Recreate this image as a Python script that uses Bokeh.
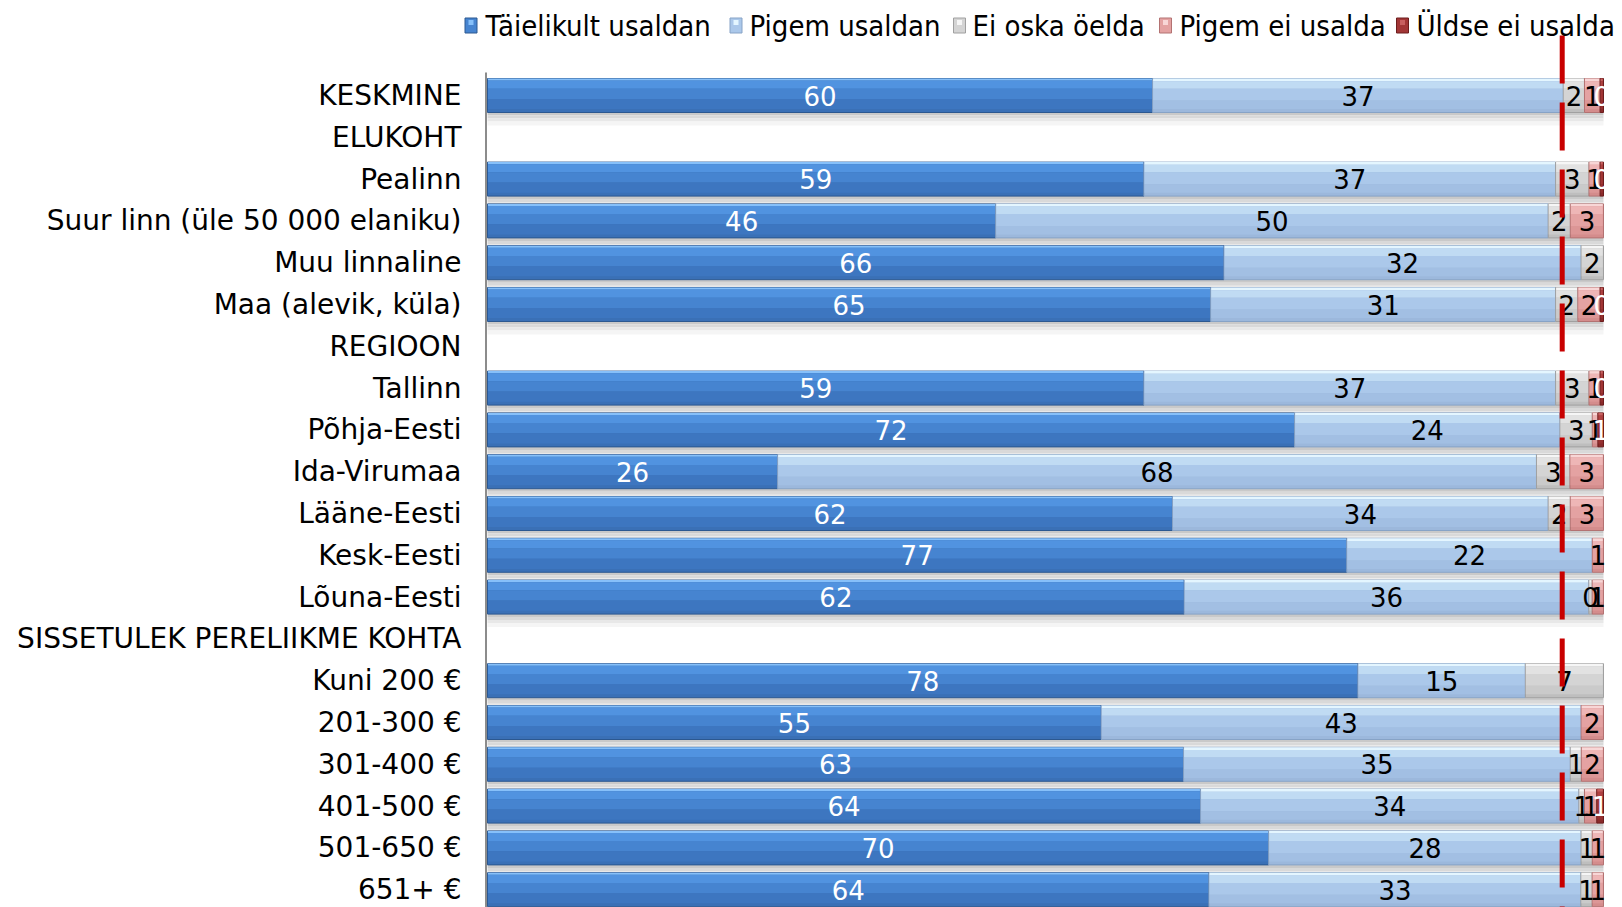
import numpy as np
from bokeh.plotting import figure
from bokeh.models import Range1d, ColumnDataSource
from bokeh.core.properties import value
from bokeh.embed import file_html
from bokeh.resources import INLINE

# ---------------- data ----------------
categories = [
    "KESKMINE", "ELUKOHT", "Pealinn", "Suur linn (üle 50 000 elaniku)",
    "Muu linnaline", "Maa (alevik, küla)", "REGIOON", "Tallinn", "Põhja-Eesti",
    "Ida-Virumaa", "Lääne-Eesti", "Kesk-Eesti", "Lõuna-Eesti",
    "SISSETULEK PERELIIKME KOHTA", "Kuni 200 €", "201-300 €", "301-400 €",
    "401-500 €", "501-650 €", "651+ €",
]
series_names = ["Täielikult usaldan", "Pigem usaldan", "Ei oska öelda",
                "Pigem ei usalda", "Üldse ei usalda"]

taielikult_usaldan = [59.6, None, 59, 46, 66, 65, None, 59, 72.4, 26, 62, 77, 62, None, 78, 55, 63, 63.9, 70, 64]
pigem_usaldan      = [36.8, None, 37, 50, 32, 31, None, 37, 23.8, 68, 34, 22, 36, None, 15, 43, 35, 33.9, 28, 33]
ei_oska_oelda      = [1.9, None, 3, 2, 2, 2, None, 3, 2.9, 3, 2, 0, 0.3, None, 7, 0, 1, 0.5, 1, 1]
pigem_ei_usalda    = [1.4, None, 1, 3, 0, 2, None, 1, 0.5, 3, 3, 1, 1, None, 0, 2, 2, 1.1, 1, 1]
uldse_ei_usalda    = [0.3, None, 0.3, 0, 0, 0.3, None, 0.3, 0.5, 0, 0, 0, 0, None, 0, 0, 0, 0.6, 0, 0]

reference_value = 96.3   # red dashed reference line (percent)

# ---------------- layout ----------------
W, H = 1622, 907
LEFT_PX = 487          # canvas px of 0 %
PX_PER_UNIT = 11.16    # px per percent
ROW0_PX = 95           # canvas px of first row centre
ROW_PX = 41.8          # px per row
BAR_H = 34 / ROW_PX


def xd(px):
    return (px - LEFT_PX) / PX_PER_UNIT


def yd(px):
    return (px - ROW0_PX) / ROW_PX


p = figure(width=W, height=H, output_backend="svg", toolbar_location=None,
           x_range=Range1d(-LEFT_PX / PX_PER_UNIT, (W - LEFT_PX) / PX_PER_UNIT),
           y_range=Range1d((H - ROW0_PX) / ROW_PX, -ROW0_PX / ROW_PX),
           x_axis_location=None, y_axis_location=None,
           min_border=0, outline_line_color=None, background_fill_color="white",
           border_fill_color="white")
p.grid.visible = False

raw = [taielikult_usaldan, pigem_usaldan, ei_oska_oelda, pigem_ei_usalda, uldse_ei_usalda]
vals = np.array([[0.0 if v is None else float(v) for v in s] for s in raw])
totals = vals.sum(axis=0)
has = totals > 0
norm = np.where(has, vals / np.where(has, totals, 1) * 100.0, 0.0)
rights = np.cumsum(norm, axis=0)
lefts = rights - norm
rows = np.arange(len(categories), dtype=float)

styles = [
    dict(edge="#2c5890", base="#3a70b6",
         bands=[(0.00, 0.06, "#86c0fa"), (0.06, 0.30, "#5193e0"), (0.30, 0.60, "#4684d0"), (0.60, 0.90, "#3d76c0")],
         text="white"),
    dict(edge="#87a3c6", base="#9cb8dc",
         bands=[(0.00, 0.08, "#e4f6ff"), (0.08, 0.30, "#c0dbf3"), (0.30, 0.65, "#abc8ea"), (0.65, 0.90, "#a2bfe3")],
         text="black"),
    dict(edge="#a0a0a0", base="#bebebe",
         bands=[(0.00, 0.08, "#f6f6f6"), (0.08, 0.30, "#e2e2e2"), (0.30, 0.65, "#d4d4d4"), (0.65, 0.90, "#cacaca")],
         text="black"),
    dict(edge="#b37272", base="#d48c8c",
         bands=[(0.00, 0.08, "#f8d6d6"), (0.08, 0.30, "#eeb6b6"), (0.30, 0.65, "#e4a2a2"), (0.65, 0.90, "#dc9696")],
         text="black"),
    dict(edge="#6c1c1c", base="#8a2a2a",
         bands=[(0.00, 0.08, "#c86060"), (0.08, 0.30, "#b04242"), (0.30, 0.65, "#a23636"), (0.65, 0.90, "#963030")],
         text="white"),
]

# shadows under each bar
shadow_bands = [(0, 3, "#c9c9c9"), (3, 6, "#d9d9d9"), (6, 9, "#e8e8e8"), (9, 13, "#f5f5f5")]
sr = rows[has]
for a, b, c in shadow_bands:
    yc = sr + BAR_H / 2 + ((a + b) / 2) / ROW_PX
    p.hbar(y=yc, left=0, right=100, height=(b - a) / ROW_PX, fill_color=c, line_color=None)

# bars with layered "gradient"
for k, st in enumerate(styles):
    m = norm[k] > 0
    src_l, src_r, src_y = lefts[k][m], rights[k][m], rows[m]
    p.hbar(y=src_y, left=src_l, right=src_r, height=BAR_H, fill_color=st["base"],
           line_color=st["edge"], line_width=1)
    for f0, f1, c in st["bands"]:
        yc = src_y - BAR_H / 2 + (f0 + f1) / 2 * BAR_H
        p.hbar(y=yc, left=src_l + 0.04, right=src_r - 0.06, height=(f1 - f0) * BAR_H,
               fill_color=c, line_color=None)

# segment labels
for k, st in enumerate(styles):
    m = norm[k] > 0
    labels = [str(int(np.floor(v + 0.5))) for v in vals[k][m]]
    src = ColumnDataSource(dict(x=(lefts[k][m] + rights[k][m]) / 2, y=rows[m], t=labels))
    p.text(x="x", y="y", text="t", source=src, text_align="center", text_baseline="middle",
           text_font=value("DejaVu Sans"), text_font_size="26px", text_color=st["text"])

# category labels
p.text(x=0, y=rows, text=categories, x_offset=-26, text_align="right",
       text_baseline="middle", text_font=value("DejaVu Sans"), text_font_size="28px",
       text_color="black")

# vertical axis line
p.segment(x0=xd(485.5), y0=yd(72), x1=xd(485.5), y1=rows[-1] + 1, line_color="#8c8c8c", line_width=2)

# red reference line
p.segment(x0=reference_value, y0=yd(35), x1=reference_value, y1=rows[-1] + 1,
          line_color="#c80000", line_width=5, line_dash="48 19")

# legend
leg_marker_px = [470.5, 735.5, 959, 1165, 1402]
leg_text_px = [485, 749, 972, 1179, 1416]
leg_y = yd(25)
for k, st in enumerate(styles):
    p.rect(x=xd(leg_marker_px[k]), y=leg_y, width=12, height=15, width_units="screen",
           height_units="screen", fill_color=st["bands"][2][2], line_color=st["edge"], line_width=1)
    p.rect(x=xd(leg_marker_px[k]), y=leg_y - 3 / ROW_PX, width=5, height=5, width_units="screen",
           height_units="screen", fill_color=st["bands"][0][2], line_color=None)
    p.text(x=xd(leg_text_px[k]), y=leg_y, text=[series_names[k]], text_align="left",
           text_baseline="middle", text_font=value("DejaVu Sans Condensed"),
           text_font_size="29px", text_color="black")

open("out.html", "w").write(file_html(p, INLINE))
